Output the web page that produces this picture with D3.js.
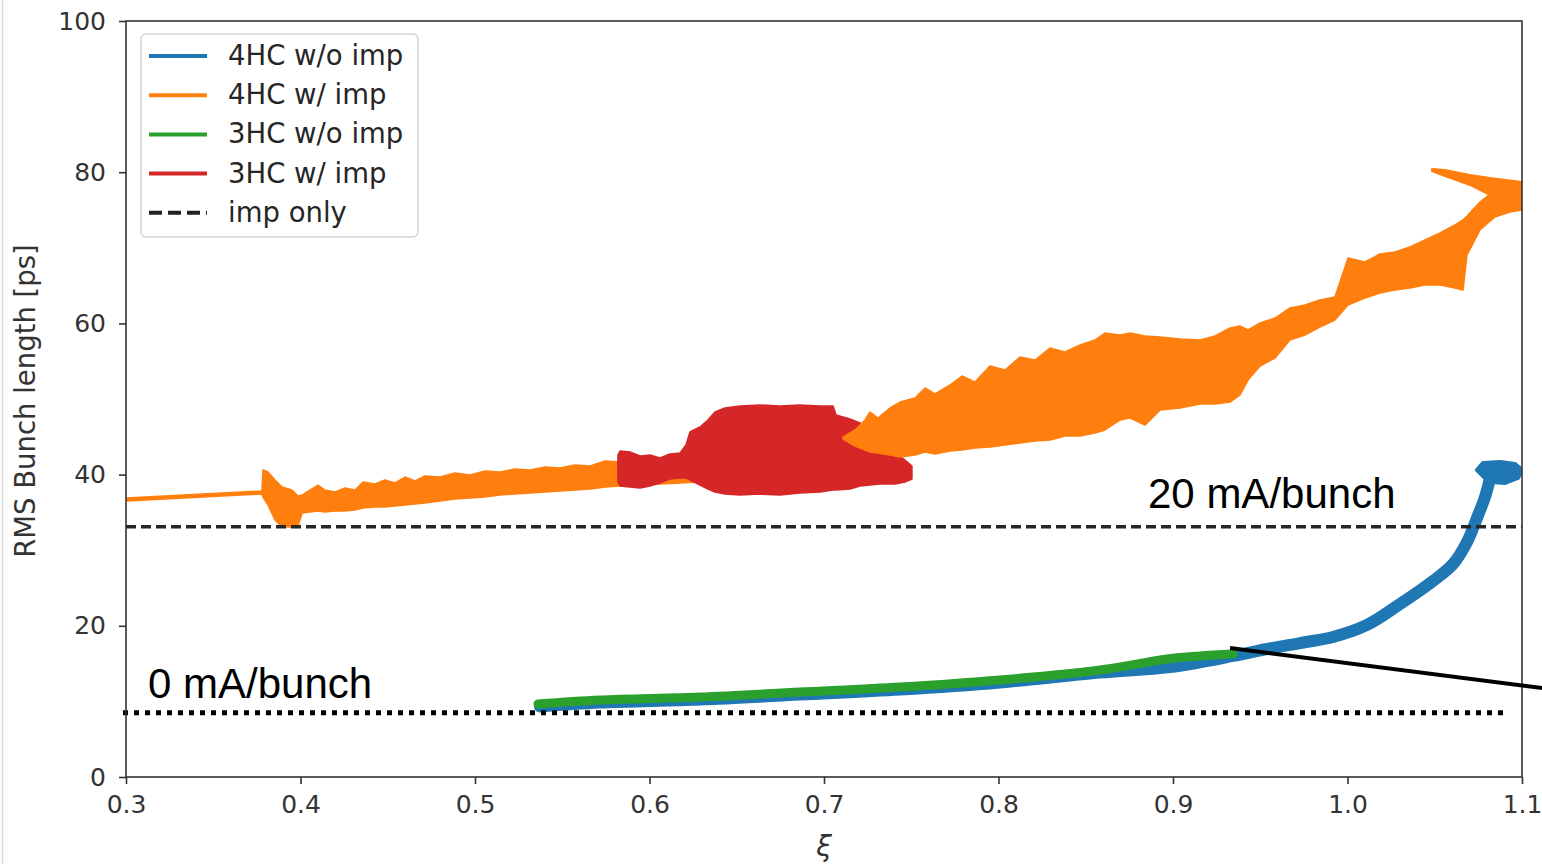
<!DOCTYPE html>
<html>
<head>
<meta charset="utf-8">
<script src="https://cdn.jsdelivr.net/npm/d3@7"></script>
<style>
  html, body { margin: 0; padding: 0; background: #fff; }
  svg { display: block; }
</style>
</head>
<body>
<svg id="chart" width="1542" height="864"></svg>
<script>
// ---- Data -------------------------------------------------------------
// RMS bunch length [ps] versus xi for the harmonic-cavity scans.

// 4HC w/ imp : upper/lower envelope of the oscillating trace (low-xi part)
const hc4ImpLowX  = [0.3000,0.3779,0.3785,0.3814,0.3854,0.3894,0.3951,0.3986,0.4009,0.4054,0.4100,0.4140,0.4198,0.4255,0.4312,0.4358,0.4427,0.4484,0.4542,0.4599,0.4656,0.4713,0.4799,0.4885,0.4971,0.5057,0.5143,0.5229,0.5315,0.5401,0.5487,0.5573,0.5659,0.5745,0.5831,0.6060,0.6289,0.6633,0.7109];
const hc4ImpLowHi = [36.90,37.83,40.61,40.34,39.29,38.36,37.96,37.17,37.30,37.96,38.62,37.96,37.70,38.23,37.96,39.02,38.76,39.29,38.89,39.68,39.15,39.81,39.68,40.21,39.95,40.48,40.34,40.74,40.61,41.01,40.87,41.27,41.14,41.80,41.67,41.93,42.59,43.25,44.97];
const hc4ImpLowLo = [36.51,37.43,37.04,35.98,33.99,33.07,33.07,33.20,34.92,35.05,35.19,35.05,35.19,35.19,35.32,35.58,35.71,35.71,35.85,35.98,36.11,36.24,36.51,36.77,36.90,37.04,37.30,37.43,37.57,37.70,37.83,37.96,38.10,38.36,38.49,38.76,39.02,39.95,44.71];

// 4HC w/ imp : high-xi part
const hc4ImpHighX  = [0.7109,0.7178,0.7235,0.7264,0.7309,0.7378,0.7436,0.7521,0.7579,0.7636,0.7722,0.7791,0.7865,0.7951,0.8037,0.8123,0.8209,0.8295,0.8381,0.8467,0.8553,0.8610,0.8696,0.8754,0.8840,0.8926,0.9040,0.9155,0.9241,0.9327,0.9384,0.9430,0.9499,0.9585,0.9670,0.9756,0.9842,0.9928,1.0003,1.0100,1.0186,1.0272,1.0358,1.0444,1.0530,1.0616,1.0662,1.0685,1.0759,1.0845,1.0931,1.1000];
const hc4ImpHighHi = [44.97,45.90,47.22,48.28,47.49,48.81,49.60,50.13,51.46,50.66,51.85,53.04,52.25,54.37,53.84,55.56,55.16,56.75,56.22,57.14,57.80,58.73,58.47,58.73,58.33,58.20,57.94,57.80,58.33,59.39,59.66,59.13,60.05,60.71,62.04,62.43,63.10,63.49,68.65,68.12,69.18,69.44,70.11,71.03,71.96,73.02,73.68,74.21,76.06,77.65,78.31,78.70];
const hc4ImpHighLo = [44.71,43.78,43.25,42.99,42.86,42.59,42.33,42.59,42.99,42.72,43.12,43.25,43.52,43.65,43.92,44.18,44.44,44.58,45.11,45.11,45.50,45.90,47.22,47.49,46.56,48.54,48.81,49.34,49.34,49.60,50.53,52.51,54.37,55.42,57.80,58.47,59.52,60.45,62.43,63.36,64.02,64.42,64.68,65.08,65.08,64.68,64.42,69.05,72.35,74.07,74.74,75.00];

// 4HC w/ imp : excursion at the largest xi
const hc4ImpTailX  = [1.0484,1.0559,1.0702,1.0817,1.1000];
const hc4ImpTailHi = [80.42,80.29,79.63,79.23,78.70];
const hc4ImpTailLo = [80.16,79.50,78.31,76.98,76.32];

// 3HC w/ imp : envelope
const hc3ImpX  = [0.5819,0.5831,0.5888,0.5946,0.6003,0.6060,0.6117,0.6175,0.6209,0.6232,0.6289,0.6335,0.6375,0.6433,0.6519,0.6633,0.6748,0.6862,0.6977,0.7052,0.7069,0.7149,0.7206,0.7264,0.7321,0.7407,0.7464,0.7504];
const hc3ImpHi = [42.59,43.12,42.99,42.46,42.59,42.20,42.72,42.86,43.92,45.63,46.30,47.22,48.28,48.81,49.07,49.21,49.07,49.21,49.07,49.07,47.88,47.35,46.83,45.90,44.58,42.99,41.93,41.14];
const hc3ImpLo = [39.02,38.49,38.36,38.23,38.49,38.89,39.42,39.55,39.55,39.29,38.62,38.10,37.70,37.43,37.30,37.43,37.30,37.57,37.70,37.96,37.96,38.10,38.49,38.62,38.76,38.76,39.02,39.42];

// 4HC w/o imp : trace
const hc4NoImpX = [0.5372,0.5716,0.6289,0.6862,0.7436,0.8009,0.8582,0.8983,0.9344,0.9539,0.9728,0.9917,1.0112,1.0301,1.0490,1.0605,1.0685,1.0742,1.0788,1.0817];
const hc4NoImpY = [9.33,9.85,10.25,10.91,11.57,12.50,13.82,14.55,16.01,16.93,17.72,18.52,20.11,22.88,25.93,28.17,31.08,34.26,37.04,39.55];
// 4HC w/o imp : spread of the last points (outline)
const hc4NoImpEndX = [1.0742,1.0776,1.0874,1.0960,1.1000,1.0977,1.0903,1.0828,1.0788];
const hc4NoImpEndY = [40.61,41.53,41.67,41.40,40.61,39.55,38.89,39.02,39.55];

// 3HC w/o imp : trace
const hc3NoImpX = [0.5361,0.5716,0.6289,0.6862,0.7436,0.8009,0.8582,0.8966,0.9155,0.9344];
const hc3NoImpY = [9.66,10.19,10.58,11.24,11.90,12.83,14.15,15.61,16.01,16.27];

// Impedance only, and the zero-current bunch length
const impOnly = 33.1;
const zeroCurrent = 8.5;

// Axis ticks
const xTicks = [0.3,0.4,0.5,0.6,0.7,0.8,0.9,1.0,1.1];
const yTicks = [0,20,40,60,80,100];

// Legend entries
const legendLabels = ["4HC w/o imp","4HC w/ imp","3HC w/o imp","3HC w/ imp","imp only"];
const legendColors = ["#1f77b4","#ff7f0e","#2ca02c","#d62728","#222"];

// Pointer from the curves' junction
const pointerX = [0.9327, 1.1115];
const pointerY = [17.06, 11.77];

// ---- Drawing ----------------------------------------------------------
const svg = d3.select("#chart");
const margin = {left: 126, top: 21, right: 1542 - 1522, bottom: 864 - 777};
const W = 1542, H = 864;

const x = d3.scaleLinear().domain([0.3, 1.1]).range([margin.left, W - margin.right]);
const y = d3.scaleLinear().domain([0, 100]).range([H - margin.bottom, margin.top]);

// thin window-edge line on the far left
svg.append("line").attr("x1", 2.5).attr("x2", 2.5).attr("y1", 0).attr("y2", H)
  .attr("stroke", "#d8d8d8").attr("stroke-width", 1.5);

svg.append("clipPath").attr("id", "plotClip")
  .append("rect").attr("x", x(0.3)).attr("y", y(100))
  .attr("width", x(1.1) - x(0.3)).attr("height", y(0) - y(100));

const plot = svg.append("g").attr("clip-path", "url(#plotClip)");

const band = (xs, hi, lo) => d3.area()
  .x((d, i) => x(xs[i]))
  .y0((d, i) => y(lo[i]))
  .y1((d, i) => y(hi[i]))(xs);

const ORANGE = "#ff7f0e", RED = "#d62728", BLUE = "#1f77b4", GREEN = "#2ca02c";

plot.append("path").attr("d", band(hc4ImpLowX, hc4ImpLowHi, hc4ImpLowLo))
  .attr("fill", ORANGE).attr("stroke", ORANGE).attr("stroke-width", 1.5).attr("stroke-linejoin", "round");

plot.append("path").attr("d", band(hc3ImpX, hc3ImpHi, hc3ImpLo))
  .attr("fill", RED).attr("stroke", RED).attr("stroke-width", 1.5).attr("stroke-linejoin", "round");

plot.append("path").attr("d", band(hc4ImpHighX, hc4ImpHighHi, hc4ImpHighLo))
  .attr("fill", ORANGE).attr("stroke", ORANGE).attr("stroke-width", 1.5).attr("stroke-linejoin", "round");

plot.append("path").attr("d", band(hc4ImpTailX, hc4ImpTailHi, hc4ImpTailLo))
  .attr("fill", ORANGE).attr("stroke", ORANGE).attr("stroke-width", 2).attr("stroke-linejoin", "round");

const trace = (xs, ys) => d3.line().x((d, i) => x(xs[i])).y((d, i) => y(ys[i])).curve(d3.curveCatmullRom)(xs);

plot.append("path").attr("d", trace(hc4NoImpX, hc4NoImpY))
  .attr("fill", "none").attr("stroke", BLUE).attr("stroke-width", 12)
  .attr("stroke-linejoin", "round").attr("stroke-linecap", "round");

plot.append("path")
  .attr("d", d3.line().x((d, i) => x(hc4NoImpEndX[i])).y((d, i) => y(hc4NoImpEndY[i])).curve(d3.curveLinearClosed)(hc4NoImpEndX))
  .attr("fill", BLUE).attr("stroke", BLUE).attr("stroke-width", 4).attr("stroke-linejoin", "round");

plot.append("path").attr("d", trace(hc3NoImpX, hc3NoImpY))
  .attr("fill", "none").attr("stroke", GREEN).attr("stroke-width", 9)
  .attr("stroke-linejoin", "round").attr("stroke-linecap", "round");

// impedance-only reference (dashed)
plot.append("line").attr("x1", x(0.3)).attr("x2", x(1.1)).attr("y1", y(impOnly)).attr("y2", y(impOnly))
  .attr("stroke", "#262626").attr("stroke-width", 3.5).attr("stroke-dasharray", "10,5");

// zero-current bunch length (dotted)
svg.append("line").attr("x1", x(0.3) - 3).attr("x2", x(1.092)).attr("y1", y(zeroCurrent)).attr("y2", y(zeroCurrent))
  .attr("stroke", "#000").attr("stroke-width", 5).attr("stroke-dasharray", "5,6");

// axes frame
const frame = svg.append("g").attr("stroke", "#333").attr("stroke-width", 1.6).attr("fill", "none");
frame.append("rect").attr("x", x(0.3)).attr("y", y(100)).attr("width", x(1.1) - x(0.3)).attr("height", y(0) - y(100));

const xAxis = d3.axisBottom(x).tickValues(xTicks).tickFormat(d3.format(".1f")).tickSizeOuter(0).tickSize(7).tickPadding(11);
const gx = svg.append("g").attr("transform", `translate(0,${y(0)})`).call(xAxis);
const yAxis = d3.axisLeft(y).tickValues(yTicks).tickFormat(d3.format("d")).tickSizeOuter(0).tickSize(7).tickPadding(13);
const gy = svg.append("g").attr("transform", `translate(${x(0.3)},0)`).call(yAxis);
[gx, gy].forEach(g => {
  g.select(".domain").remove();
  g.selectAll(".tick line").attr("stroke", "#333").attr("stroke-width", 1.6);
  g.selectAll(".tick text").attr("fill", "#333")
    .style("font-family", "'DejaVu Sans', sans-serif").style("font-size", "25px");
});

svg.append("text").attr("x", x(0.7)).attr("y", 856).attr("text-anchor", "middle")
  .style("font-family", "'DejaVu Sans', sans-serif").style("font-size", "28px").style("font-style", "italic")
  .attr("fill", "#333").text("ξ");

svg.append("text").attr("transform", `translate(35,${y(50) + 2}) rotate(-90)`).attr("text-anchor", "middle")
  .style("font-family", "'DejaVu Sans', sans-serif").style("font-size", "27.5px")
  .attr("fill", "#333").text("RMS Bunch length [ps]");

// legend
const lg = svg.append("g").attr("transform", "translate(141,34)");
lg.append("rect").attr("width", 277).attr("height", 203).attr("rx", 5).attr("ry", 5)
  .attr("fill", "#fff").attr("fill-opacity", 0.8).attr("stroke", "#d6d6d6").attr("stroke-width", 1.5);
legendLabels.forEach((lab, i) => {
  const cy = 22 + i * 39.2;
  lg.append("line").attr("x1", 8).attr("x2", 66).attr("y1", cy).attr("y2", cy)
    .attr("stroke", legendColors[i]).attr("stroke-width", 4)
    .attr("stroke-dasharray", i === 4 ? "13,6" : null);
  lg.append("text").attr("x", 87).attr("y", cy + 9).attr("fill", "#262626")
    .style("font-family", "'DejaVu Sans', sans-serif").style("font-size", "27.5px").text(lab);
});

// annotations
svg.append("line").attr("x1", x(pointerX[0])).attr("y1", y(pointerY[0]))
  .attr("x2", x(pointerX[1])).attr("y2", y(pointerY[1]))
  .attr("stroke", "#000").attr("stroke-width", 4);

svg.append("text").attr("x", 1148).attr("y", y(impOnly) - 19)
  .style("font-family", "'Liberation Sans', Arial, sans-serif").style("font-size", "42px")
  .attr("fill", "#000").text("20 mA/bunch");
svg.append("text").attr("x", 148).attr("y", y(zeroCurrent) - 15)
  .style("font-family", "'Liberation Sans', Arial, sans-serif").style("font-size", "42px")
  .attr("fill", "#000").text("0 mA/bunch");
</script>
</body>
</html>
